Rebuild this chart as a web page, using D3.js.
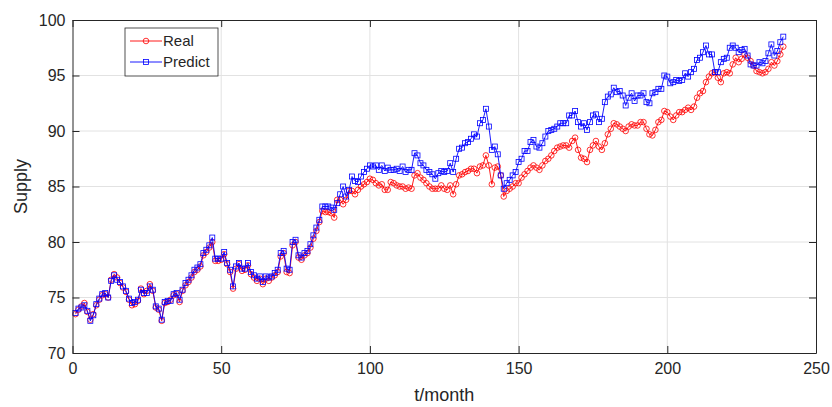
<!DOCTYPE html>
<html>
<head>
<meta charset="utf-8">
<script src="https://cdn.jsdelivr.net/npm/d3@7"></script>
<style>
  body { margin: 0; background: #fff; }
  text { font-family: "Liberation Sans", Arial, Helvetica, sans-serif; fill: #262626; }
</style>
</head>
<body>
<svg id="chart"></svg>
<script>
// monthly supply, real vs predicted (months 1..239)
const real = [
  73.5, 73.9, 74.2, 74.5, 73.7, 73.0, 73.5, 74.3, 74.8, 75.2,
  75.3, 75.0, 76.6, 77.1, 76.8, 76.3, 75.9, 75.5, 74.8, 74.3,
  74.4, 74.7, 75.8, 75.3, 75.6, 76.2, 75.6, 74.1, 73.9, 72.9,
  74.5, 74.6, 74.8, 75.2, 75.3, 74.6, 75.6, 76.1, 76.4, 76.8,
  77.3, 77.5, 77.8, 78.8, 79.1, 79.5, 80.0, 78.3, 78.3, 78.4,
  78.9, 78.0, 77.3, 75.8, 77.6, 78.0, 77.4, 77.5, 77.9, 77.1,
  76.8, 76.5, 76.7, 76.2, 76.7, 76.5, 76.8, 77.0, 77.3, 78.7,
  79.0, 77.3, 77.2, 79.7, 80.0, 78.6, 78.4, 78.8, 79.0, 79.5,
  80.3, 81.0, 81.8, 82.8, 82.7, 82.7, 82.6, 82.2, 83.8, 83.8,
  83.4, 83.8, 84.6, 84.6, 84.3, 84.7, 85.0, 85.2, 85.4, 85.7,
  85.6, 85.3, 85.1, 85.2, 84.7, 84.7, 85.4, 85.3, 85.1, 85.0,
  85.0, 84.8, 84.9, 84.8, 86.0, 86.2, 85.8, 85.6, 85.3, 85.0,
  84.8, 84.8, 84.8, 85.1, 84.8, 84.7, 85.1, 84.3, 85.2, 86.0,
  86.1, 86.3, 86.4, 86.6, 86.6, 86.2, 86.8, 86.9, 87.8, 86.9,
  85.2, 86.7, 86.8, 86.0, 84.1, 84.6, 84.8, 85.0, 85.3, 85.3,
  85.8, 86.1, 86.4, 86.7, 86.9, 86.7, 86.5, 86.9, 87.3, 87.5,
  87.8, 88.2, 88.5, 88.6, 88.7, 88.7, 88.5, 89.1, 89.4, 88.3,
  87.6, 87.5, 87.2, 88.3, 88.7, 89.1, 88.6, 88.3, 88.9, 89.7,
  90.2, 90.7, 90.6, 90.4, 90.2, 90.0, 90.4, 90.6, 90.5, 90.5,
  90.8, 90.8, 90.2, 89.7, 89.6, 90.1, 90.8, 91.0, 91.8, 91.7,
  91.3, 91.0, 91.4, 91.7, 91.7, 91.9, 92.1, 91.9, 92.2, 93.0,
  93.4, 93.6, 94.4, 94.9, 95.2, 95.3, 94.8, 94.4, 95.2, 95.3,
  95.2, 96.0, 96.6, 96.2, 96.5, 96.9, 96.6, 96.3, 95.9, 95.4,
  95.3, 95.2, 95.3, 95.6, 96.2, 95.9, 96.3, 96.9, 97.6
];
const predict = [
  73.6, 74.0, 74.1, 74.3, 73.8, 72.9, 73.4, 74.4, 74.9, 75.3,
  75.4, 75.0, 76.5, 77.0, 76.6, 76.4, 76.0, 75.6, 74.9, 74.5,
  74.6, 74.8, 75.7, 75.4, 75.4, 76.0, 75.7, 74.2, 74.0, 73.0,
  74.6, 74.7, 74.7, 75.3, 75.4, 74.8, 75.7, 76.3, 76.6, 77.0,
  77.5, 77.7, 78.0, 79.0, 79.3, 79.7, 80.4, 78.5, 78.5, 78.5,
  79.1, 78.1, 77.5, 76.0, 77.8, 78.1, 77.6, 77.6, 78.1, 77.3,
  77.0, 76.7, 76.9, 76.4, 76.9, 76.8, 76.9, 77.2, 77.5, 79.0,
  79.2, 77.6, 77.5, 80.0, 80.2, 78.8, 78.6, 79.0, 79.2, 79.8,
  80.6, 81.3, 82.0, 83.2, 83.2, 83.2, 83.1, 82.9, 83.5, 84.3,
  85.0, 84.1, 84.7, 85.9, 85.5, 85.4, 85.9, 86.3, 86.6, 86.9,
  86.8, 86.9, 86.5, 86.9, 86.4, 86.7, 86.5, 86.5, 86.6, 86.4,
  86.8, 86.3, 86.5, 86.5, 88.0, 87.8, 87.1, 86.9, 86.5, 86.3,
  86.1, 85.7, 86.2, 86.4, 86.3, 86.4, 87.1, 86.3, 87.5, 88.4,
  88.5, 88.9, 89.0, 89.3, 89.7, 89.5, 90.7, 91.0, 92.0, 90.4,
  88.3, 88.6, 87.9, 86.0, 84.8, 85.3, 85.6, 86.0, 86.3, 87.2,
  87.5, 88.2, 88.2, 89.0, 89.2, 88.6, 88.5, 88.9, 89.5, 90.0,
  90.1, 90.2, 90.4, 90.7, 90.7, 90.7, 91.4, 91.4, 91.8, 90.8,
  90.4, 90.7, 90.1, 90.8, 91.4, 91.5, 90.8, 91.1, 92.6, 93.1,
  93.3, 93.9, 93.5, 93.6, 93.2, 92.3, 93.0, 93.4, 92.7, 93.2,
  93.2, 93.4, 92.6, 92.5, 93.4, 93.5, 93.8, 93.8, 95.0, 94.9,
  94.3, 94.4, 94.6, 94.5, 94.6, 95.2, 94.9, 95.3, 95.6, 96.4,
  96.6, 97.1, 97.7, 96.9, 96.9, 95.3, 95.3, 96.2, 96.5, 96.6,
  97.5, 97.7, 97.5, 97.1, 97.3, 97.4, 96.8, 96.0, 95.9, 95.9,
  96.2, 96.1, 96.3, 97.0, 97.8, 96.8, 97.2, 98.0, 98.5
];
const xTicks = [0, 50, 100, 150, 200, 250];
const yTicks = [70, 75, 80, 85, 90, 95, 100];
const seriesNames = ['Real', 'Predict'];

const W = 832, H = 407;
const plot = { left: 72.5, right: 816, top: 20, bottom: 353 };
const axisColor = '#262626';

const svg = d3.select('#chart').attr('width', W).attr('height', H);

const x = d3.scaleLinear().domain([0, 250]).range([plot.left, plot.right]);
const y = d3.scaleLinear().domain([70, 100]).range([plot.bottom, plot.top]);

// grid
const grid = svg.append('g').attr('stroke', '#e2e2e2').attr('stroke-width', 1);
grid.selectAll('.gx').data(xTicks.slice(1, -1)).enter().append('line')
  .attr('x1', d => x(d)).attr('x2', d => x(d))
  .attr('y1', plot.top).attr('y2', plot.bottom);
grid.selectAll('.gy').data(yTicks.slice(1, -1)).enter().append('line')
  .attr('x1', plot.left).attr('x2', plot.right)
  .attr('y1', d => y(d)).attr('y2', d => y(d));

// series
const series = [
  { name: seriesNames[0], values: real, color: '#ff0000', marker: 'circle' },
  { name: seriesNames[1], values: predict, color: '#0000ff', marker: 'square' }
];

const line = d3.line()
  .x((d, i) => x(i + 1))
  .y(d => y(d));

function drawMarker(sel, s) {
  if (s.marker === 'circle') {
    sel.append('circle').attr('r', 2.8);
  } else {
    sel.append('rect').attr('x', -2.5).attr('y', -2.5).attr('width', 5).attr('height', 5);
  }
}

series.forEach(s => {
  svg.append('path')
    .datum(s.values)
    .attr('d', line)
    .attr('fill', 'none')
    .attr('stroke', s.color)
    .attr('stroke-width', 0.9);

  const g = svg.append('g').attr('fill', 'none').attr('stroke', s.color).attr('stroke-width', 0.8);
  g.selectAll('g').data(s.values).enter().append('g')
    .attr('transform', (d, i) => `translate(${x(i + 1)},${y(d)})`)
    .each(function () { drawMarker(d3.select(this), s); });
});

// axes (ticks inward, box on)
const tickLen = 7;
const xAxis = svg.append('g').attr('transform', `translate(0,${plot.bottom})`)
  .call(d3.axisBottom(x).tickValues(xTicks).tickSizeInner(-tickLen).tickSizeOuter(0).tickPadding(10));
const xTop = svg.append('g').attr('transform', `translate(0,${plot.top})`)
  .call(d3.axisTop(x).tickValues(xTicks).tickSizeInner(-tickLen).tickSizeOuter(0).tickFormat(''));
const yAxis = svg.append('g').attr('transform', `translate(${plot.left},0)`)
  .call(d3.axisLeft(y).tickValues(yTicks).tickSizeInner(-tickLen).tickSizeOuter(0).tickPadding(7));
const yRight = svg.append('g').attr('transform', `translate(${plot.right},0)`)
  .call(d3.axisRight(y).tickValues(yTicks).tickSizeInner(-tickLen).tickSizeOuter(0).tickFormat(''));

[xAxis, xTop, yAxis, yRight].forEach(a => {
  a.select('.domain').attr('stroke', axisColor).attr('stroke-width', 1);
  a.selectAll('.tick line').attr('stroke', axisColor).attr('stroke-width', 1);
  a.selectAll('.tick text')
    .attr('fill', axisColor)
    .style('font-size', '16px')
    .style('font-family', '"Liberation Sans", Arial, sans-serif');
});

// axis labels
svg.append('text')
  .attr('x', (plot.left + plot.right) / 2)
  .attr('y', 401)
  .attr('text-anchor', 'middle')
  .style('font-size', '18px')
  .text('t/month');

svg.append('text')
  .attr('transform', `translate(27,${(plot.top + plot.bottom) / 2}) rotate(-90)`)
  .attr('text-anchor', 'middle')
  .style('font-size', '18px')
  .text('Supply');

// legend
const legend = svg.append('g').attr('transform', 'translate(125,28)');
legend.append('rect')
  .attr('width', 93).attr('height', 48)
  .attr('fill', '#fff').attr('stroke', axisColor).attr('stroke-width', 0.8);

series.forEach((s, i) => {
  const row = legend.append('g').attr('transform', `translate(0,${13 + i * 21})`);
  row.append('line')
    .attr('x1', 5).attr('x2', 37).attr('y1', 0).attr('y2', 0)
    .attr('stroke', s.color).attr('stroke-width', 0.9);
  const m = row.append('g').attr('transform', 'translate(21,0)')
    .attr('fill', 'none').attr('stroke', s.color).attr('stroke-width', 0.8);
  drawMarker(m, s);
  row.append('text')
    .attr('x', 38).attr('y', 0).attr('dy', '0.35em')
    .style('font-size', '15px')
    .text(s.name);
});
</script>
</body>
</html>
